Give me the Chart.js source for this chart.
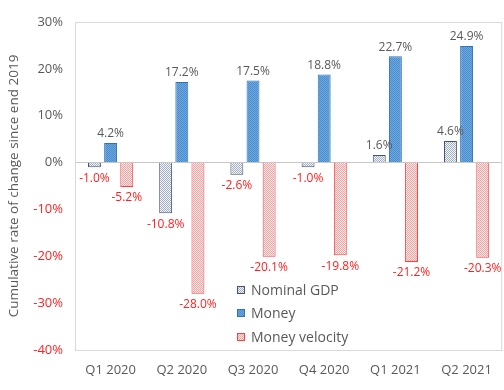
<!DOCTYPE html>
<html>
<head>
<meta charset="utf-8">
<script src="https://cdn.jsdelivr.net/npm/chart.js@4.4.1/dist/chart.umd.min.js"></script>
<style>
  html, body { margin: 0; padding: 0; background: #fff; }
  #wrap { width: 504px; height: 390px; position: relative; }
</style>
</head>
<body>
<div id="wrap"><canvas id="c"></canvas></div>
<script>
const labels = ['Q1 2020', 'Q2 2020', 'Q3 2020', 'Q4 2020', 'Q1 2021', 'Q2 2021'];
const nominalGdp = [-1.0, -10.8, -2.6, -1.0, 1.6, 4.6];
const money = [4.2, 17.2, 17.5, 18.8, 22.7, 24.9];
const velocity = [-5.2, -28.0, -20.1, -19.8, -21.2, -20.3];
const seriesNames = ['Nominal GDP', 'Money', 'Money velocity'];

const FONT = '"Open Sans", sans-serif';
const GREY = '#595959', RED = '#ff1f1f';

// checkerboard fills, roughly like the excel pattern fills
const pattern = (a, b) => {
  const p = document.createElement('canvas');
  p.width = 2; p.height = 2;
  const x = p.getContext('2d');
  x.fillStyle = a; x.fillRect(0, 0, 2, 2);
  x.fillStyle = b; x.fillRect(0, 0, 1, 1); x.fillRect(1, 1, 1, 1);
  return x.createPattern(p, 'repeat');
};
const ctx = document.getElementById('c').getContext('2d');
const pGdp = pattern('#f4f5f8', '#a3afc4');
const pMoney = pattern('#6eaae0', '#4b8bcc');
const pVel = pattern('#fff4f4', '#fb9e9e');

const fmt = v => v.toFixed(1) + '%';

const valueLabels = {
  id: 'valueLabels',
  afterDatasetsDraw(chart) {
    const c = chart.ctx;
    c.save();
    c.font = '12px ' + FONT;
    c.textAlign = 'center';
    chart.data.datasets.forEach((ds, i) => {
      chart.getDatasetMeta(i).data.forEach((bar, j) => {
        const v = ds.data[j];
        if (v >= 0) {
          c.fillStyle = GREY; c.textBaseline = 'bottom';
          c.fillText(fmt(v), bar.x, bar.y - 3);
        } else {
          c.fillStyle = RED; c.textBaseline = 'top';
          c.fillText(fmt(v), bar.x, bar.y + 5);
        }
      });
    });
    c.restore();
  }
};

const frame = {
  id: 'frame',
  beforeDatasetsDraw(chart) {
    const a = chart.chartArea, c = chart.ctx;
    c.save();
    c.strokeStyle = '#d9d9d9'; c.lineWidth = 1;
    c.strokeRect(a.left + 0.5, a.top + 0.5, a.right - a.left - 1, a.bottom - a.top);
    c.restore();
  }
};

const insideLegend = {
  id: 'insideLegend',
  afterDraw(chart) {
    const c = chart.ctx;
    c.save();
    c.font = '14px ' + FONT;
    c.textBaseline = 'middle';
    const ys = [290, 313, 337];
    chart.data.datasets.forEach((ds, i) => {
      c.fillStyle = ds.backgroundColor;
      c.fillRect(237, ys[i] - 4, 8, 8);
      c.strokeStyle = ds.borderColor; c.lineWidth = 1;
      c.strokeRect(237.5, ys[i] - 3.5, 7, 7);
      c.fillStyle = GREY;
      c.fillText(ds.label, 251, ys[i] + 1);
    });
    c.restore();
  }
};

new Chart(ctx, {
  type: 'bar',
  data: {
    labels,
    datasets: [
      { label: seriesNames[0], data: nominalGdp, backgroundColor: pGdp, borderColor: '#44546a', borderWidth: 1 },
      { label: seriesNames[1], data: money, backgroundColor: pMoney, borderColor: '#2e75b6', borderWidth: 1 },
      { label: seriesNames[2], data: velocity, backgroundColor: pVel, borderColor: '#ff4040', borderWidth: 1 }
    ]
  },
  options: {
    responsive: true,
    maintainAspectRatio: false,
    animation: false,
    layout: { padding: { top: 22, right: 1, bottom: 0, left: 0 } },
    datasets: { bar: { categoryPercentage: 0.68, barPercentage: 0.8 } },
    plugins: {
      legend: { display: false },
      tooltip: { enabled: false }
    },
    scales: {
      x: {
        grid: { display: false, drawTicks: false },
        border: { display: true, color: '#d9d9d9' },
        ticks: { color: GREY, font: { family: FONT, size: 13 }, padding: 12 },
        afterFit: s => { s.height = 40; }
      },
      y: {
        min: -40, max: 30,
        grid: {
          drawTicks: false,
          color: c => c.tick && c.tick.value === 0 ? '#c8c8c8' : 'rgba(0,0,0,0)'
        },
        border: { display: false },
        ticks: {
          stepSize: 10,
          padding: 12,
          font: { family: FONT, size: 13 },
          color: c => c.tick.value < 0 ? RED : GREY,
          callback: v => v + '%'
        },
        title: {
          display: true,
          text: 'Cumulative rate of change since end 2019',
          color: GREY,
          font: { family: FONT, size: 13.5 },
          padding: { top: 6, bottom: 0 }
        },
        afterFit: s => { s.width = 75; }
      }
    }
  },
  plugins: [frame, valueLabels, insideLegend]
});
</script>
</body>
</html>
